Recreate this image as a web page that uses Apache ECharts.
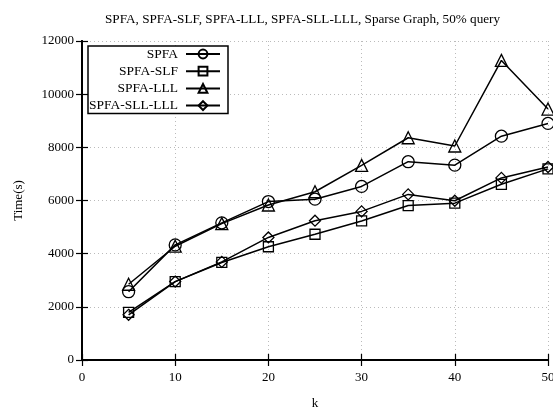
<!DOCTYPE html>
<html><head><meta charset="utf-8">
<script src="https://cdn.jsdelivr.net/npm/echarts@6/dist/echarts.min.js"></script>
<style>html,body{margin:0;padding:0;background:#fff}#c{width:553px;height:409px}</style>
</head><body><div id="c"></div>
<script>
var kValues = [5, 10, 15, 20, 25, 30, 35, 40, 45, 50];
var spfa = [2570, 4330, 5160, 5960, 6050, 6530, 7460, 7330, 8420, 8900];
var spfaSLF = [1790, 2950, 3670, 4260, 4730, 5230, 5810, 5900, 6610, 7190];
var spfaLLL = [2850, 4280, 5130, 5830, 6330, 7320, 8360, 8050, 11270, 9440];
var spfaSLLLLL = [1700, 2950, 3690, 4610, 5240, 5590, 6230, 5990, 6850, 7260];
var seriesNames = ['SPFA', 'SPFA-SLF', 'SPFA-LLL', 'SPFA-SLL-LLL'];
var symbols = ['circle', 'rect', 'triangle', 'diamond'];
var sizes = [12, 10, 12, 11];
var allData = [spfa, spfaSLF, spfaLLL, spfaSLLLLL];

var font = 'Liberation Serif';
var chart = echarts.init(document.getElementById('c'));
var series = allData.map(function (d, i) {
  return {
    name: seriesNames[i], type: 'line', symbol: symbols[i], symbolSize: sizes[i],
    data: kValues.map(function (k, j) { return [k, d[j]]; }),
    lineStyle: { color: '#000', width: 1.5 },
    itemStyle: { color: 'rgba(255,255,255,0)', borderColor: '#000', borderWidth: 1.3 },
    emphasis: { disabled: true }, animation: false
  };
});
var tickStyle = { show: true, inside: true, length: 6, lineStyle: { color: '#000', width: 1.2 } };
chart.setOption({
  animation: false,
  title: { text: 'SPFA, SPFA-SLF, SPFA-LLL, SPFA-SLL-LLL, Sparse Graph, 50% query', left: 100, top: 8,
    textStyle: { fontFamily: font, fontSize: 13.2, fontWeight: 'normal', color: '#000' } },
  grid: { left: 82, right: 5, top: 41, bottom: 49, outerBoundsMode: 'none', containLabel: false },
  legend: { orient: 'vertical', left: 88, top: 46, align: 'right', itemWidth: 34, itemHeight: 11, itemGap: 3.2,
    padding: [1, 7, 1, 1], borderColor: '#000', borderWidth: 1.5, backgroundColor: '#fff',
    textStyle: { fontFamily: font, fontSize: 13.5, color: '#000', padding: [0, 3, 0, 0] }, data: seriesNames },
  xAxis: [{ type: 'value', min: 0, max: 50, interval: 10, name: 'k', nameLocation: 'middle', nameGap: 37,
    nameTextStyle: { fontFamily: font, fontSize: 13, color: '#000' },
    axisLine: { show: true, lineStyle: { color: '#000', width: 2 } }, axisTick: tickStyle,
    axisLabel: { fontFamily: font, fontSize: 13, color: '#000', margin: 11 },
    splitLine: { show: true, lineStyle: { color: '#bbb', type: [1, 3], width: 1 } } },
    { type: 'value', position: 'top', min: 0, max: 50, interval: 10,
    axisLine: { show: true, lineStyle: { color: '#000', width: 2 } }, axisTick: tickStyle,
    axisLabel: { show: false }, splitLine: { show: false } }],
  yAxis: [{ type: 'value', min: 0, max: 12000, interval: 2000, name: 'Time(s)', nameLocation: 'middle', nameGap: 57,
    nameTextStyle: { fontFamily: font, fontSize: 13, color: '#000' },
    axisLine: { show: true, lineStyle: { color: '#000', width: 2 } }, axisTick: tickStyle,
    axisLabel: { fontFamily: font, fontSize: 13, color: '#000', margin: 8, formatter: function (v) { return String(v); } },
    splitLine: { show: true, lineStyle: { color: '#bbb', type: [1, 3], width: 1 } } },
    { type: 'value', position: 'right', min: 0, max: 12000, interval: 2000,
    axisLine: { show: true, lineStyle: { color: '#000', width: 2 } }, axisTick: tickStyle,
    axisLabel: { show: false }, splitLine: { show: false } }],
  series: series
});
</script></body></html>
